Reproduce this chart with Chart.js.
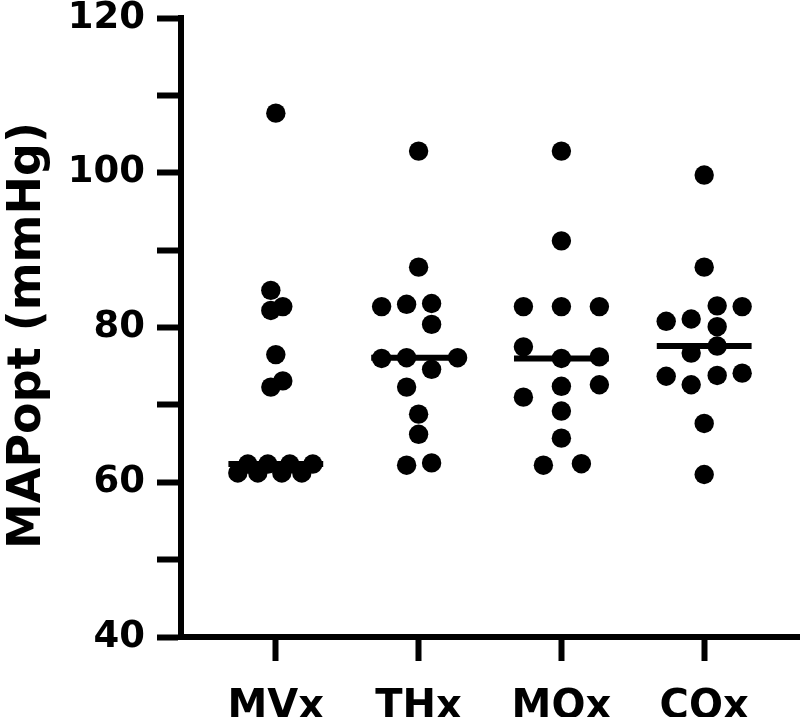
<!DOCTYPE html>
<html>
<head>
<meta charset="utf-8">
<script src="https://cdn.jsdelivr.net/npm/chart.js@4"></script>
<style>
  html, body { margin: 0; padding: 0; background: #fff; }
  #wrap { width: 800px; height: 717px; }
</style>
</head>
<body>
<div id="wrap"><canvas id="dot-chart"></canvas></div>
<script>
// groups on the x axis
const groups = ['MVx', 'THx', 'MOx', 'COx'];
const yTicks = [40, 60, 80, 100, 120];

// MAPopt values (mmHg)
const mvx = [107.7, 84.8, 82.2, 82.7, 76.5, 72.3, 73.1, 62.35, 62.35, 62.35, 62.35, 61.2, 61.2, 61.2, 61.2];
const thx = [102.8, 87.8, 82.7, 83.0, 83.1, 80.4, 76.0, 76.1, 76.1, 74.6, 72.3, 68.8, 66.2, 62.2, 62.5];
const mox = [102.8, 91.2, 82.7, 82.7, 82.7, 77.5, 76.0, 76.2, 72.4, 72.6, 71.0, 69.2, 65.7, 62.2, 62.4];
const cox = [99.7, 87.8, 82.8, 82.7, 80.8, 81.1, 80.1, 77.6, 76.7, 73.7, 72.6, 73.8, 74.1, 67.6, 61.0];

// horizontal scatter of each dot inside its group (fraction of one group step)
const mvxSpread = [0, -0.035, -0.035, 0.049, 0, -0.035, 0.049, -0.196, -0.056, 0.098, 0.259, -0.266, -0.126, 0.042, 0.182];
const thxSpread = [0, 0, -0.259, -0.084, 0.091, 0.091, -0.259, -0.084, 0.273, 0.091, -0.084, 0, 0, -0.084, 0.091];
const moxSpread = [0, 0, -0.266, 0, 0.266, -0.266, 0, 0.266, 0, 0.266, -0.266, 0, 0, -0.126, 0.14];
const coxSpread = [0, 0, 0.091, 0.266, -0.266, -0.091, 0.091, 0.091, -0.091, -0.266, -0.091, 0.091, 0.266, 0, 0];

const values = [mvx, thx, mox, cox];
const spreads = [mvxSpread, thxSpread, moxSpread, coxSpread];

function median(arr) {
  let s = arr.slice().sort((a, b) => a - b);
  let m = Math.floor(s.length / 2);
  return s.length % 2 ? s[m] : (s[m - 1] + s[m]) / 2;
}

let datasets = [];
for (let g = 0; g < groups.length; g++) {
  let pts = values[g].map((v, i) => ({ x: g + 1 + spreads[g][i], y: v }));
  datasets.push({
    label: groups[g],
    data: pts,
    backgroundColor: '#000',
    borderWidth: 0,
    pointRadius: 9.7,
    pointHoverRadius: 9.7
  });
  let med = median(values[g]);
  datasets.push({
    label: groups[g] + ' median',
    data: [{ x: g + 1 - 0.332, y: med }, { x: g + 1 + 0.332, y: med }],
    showLine: true,
    borderColor: '#000',
    borderWidth: 6,
    borderCapStyle: 'butt',
    pointRadius: 0,
    pointHoverRadius: 0
  });
}

const axisGrid = {
  display: true,
  drawOnChartArea: false,
  drawTicks: true,
  tickLength: 24,
  tickWidth: 6,
  tickColor: '#000',
  color: '#000'
};

const ctx = document.getElementById('dot-chart');
const myChart = new Chart(ctx, {
  type: 'scatter',
  data: { datasets: datasets },
  options: {
    responsive: true,
    maintainAspectRatio: false,
    animation: false,
    layout: { autoPadding: false, padding: { top: 18, right: 1, bottom: 0, left: 0 } },
    plugins: {
      legend: { display: false },
      tooltip: { enabled: false }
    },
    scales: {
      x: {
        type: 'linear',
        min: 0.336,
        max: 4.664,
        afterBuildTicks: (s) => { s.ticks = groups.map((g, i) => ({ value: i + 1 })); },
        afterFit: (s) => { s.height = 80; s.paddingLeft = 0; s.paddingRight = 0; },
        ticks: {
          callback: (v) => groups[Math.round(v) - 1],
          color: '#000',
          font: { family: 'DejaVu Sans', weight: 'bold', size: 40 },
          padding: 23,
          maxRotation: 0,
          autoSkip: false
        },
        grid: axisGrid,
        border: { display: true, width: 6, color: '#000' }
      },
      y: {
        min: 40,
        max: 120,
        afterFit: (s) => { s.width = 181; s.paddingTop = 0; s.paddingBottom = 0; },
        ticks: {
          stepSize: 10,
          callback: (v) => yTicks.includes(v) ? v : '',
          color: '#000',
          font: { family: 'DejaVu Sans', weight: 'bold', size: 37, lineHeight: 0.8 },
          padding: 12
        },
        grid: axisGrid,
        border: { display: true, width: 6, color: '#000' },
        title: {
          display: true,
          text: 'MAPopt (mmHg)\u00a0',
          color: '#000',
          font: { family: 'DejaVu Sans', weight: 'bold', size: 46 },
          padding: 0
        }
      }
    }
  }
});
</script>
</body>
</html>
